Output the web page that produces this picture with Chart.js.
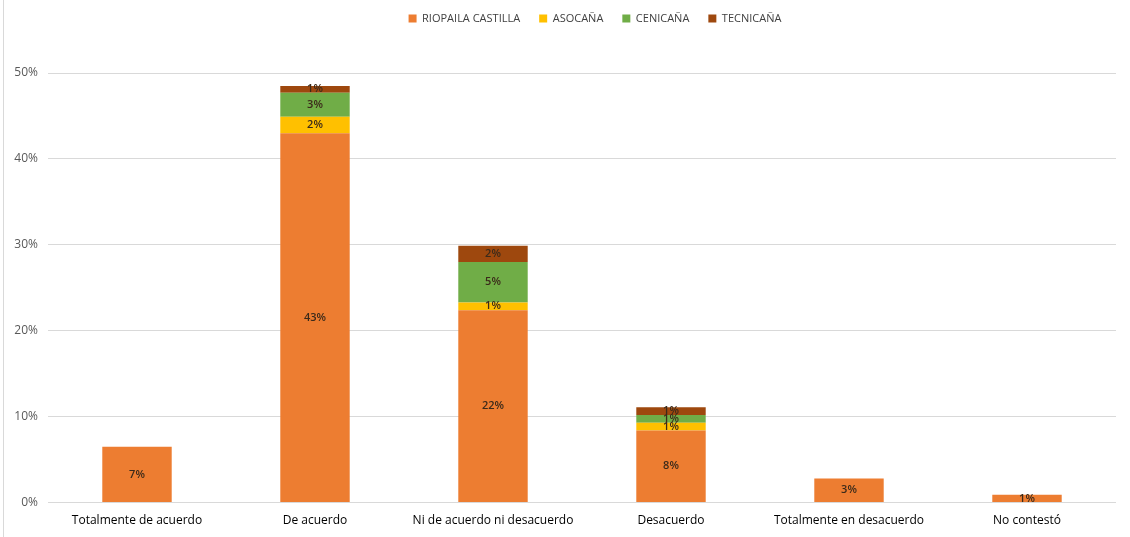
<!DOCTYPE html>
<html lang="es">
<head>
    <meta charset="UTF-8">
    <title>Encuesta</title>
    <script src="https://cdn.jsdelivr.net/npm/chart.js"></script>
    <style>
        body { margin: 0; background: #fff; }
        #wrap { position: relative; width: 1130px; height: 537px; }
        #frame { position: absolute; left: 3px; top: 0; width: 1px; height: 537px; background: #d9d9d9; }
    </style>
</head>
<body>
<div id="wrap">
    <div id="frame"></div>
    <canvas id="myBarChart" width="1130" height="537"></canvas>
</div>

<script>
    // categorías y valores (% de respuestas)
    var categorias = ['Totalmente de acuerdo', 'De acuerdo', 'Ni de acuerdo ni desacuerdo', 'Desacuerdo', 'Totalmente en desacuerdo', 'No contestó'];
    var riopaila  = [6.5, 43.0, 22.4, 8.4, 2.8, 0.9];
    var asocana   = [0,   1.9,  0.9,  0.9, 0,   0];
    var cenicana  = [0,   2.8,  4.7,  0.9, 0,   0];
    var tecnicana = [0,   0.8,  1.9,  0.9, 0,   0];
    var yTicks = [0, 10, 20, 30, 40, 50];

    // etiquetas dentro de las barras
    var barLabels = {
        id: 'barLabels',
        afterDatasetsDraw: function(chart) {
            var ctx = chart.ctx;
            ctx.save();
            ctx.font = '600 11px "Open Sans"';
            ctx.fillStyle = '#3b2a1a';
            ctx.textAlign = 'center';
            ctx.textBaseline = 'middle';
            chart.data.datasets.forEach(function(ds, i) {
                var meta = chart.getDatasetMeta(i);
                meta.data.forEach(function(bar, j) {
                    var v = ds.data[j];
                    if (!v) return;
                    var yMid = (bar.y + bar.base) / 2;
                    ctx.fillText(Math.round(v) + '%', bar.x, yMid);
                });
            });
            ctx.restore();
        }
    };

    // más espacio bajo la leyenda y leyenda un poco a la derecha
    var legendSpace = {
        id: 'legendSpace',
        beforeInit: function(chart) {
            var fit = chart.legend.fit;
            chart.legend.fit = function() {
                fit.bind(chart.legend)();
                this.height += 33;
            };
        },
        afterLayout: function(chart) {
            chart.legend.left += 37;
            chart.legend.right += 37;
            chart.legend.top -= 6;
            chart.legend.bottom -= 6;
        }
    };

    var ctx = document.getElementById('myBarChart').getContext('2d');
    var myBarChart = new Chart(ctx, {
        type: 'bar',
        data: {
            labels: categorias,
            datasets: [
                { label: 'RIOPAILA CASTILLA', data: riopaila, backgroundColor: '#ED7D31' },
                { label: 'ASOCAÑA', data: asocana, backgroundColor: '#FFC000' },
                { label: 'CENICAÑA', data: cenicana, backgroundColor: '#70AD47' },
                { label: 'TECNICAÑA', data: tecnicana, backgroundColor: '#9E480E' }
            ]
        },
        options: {
            responsive: false,
            animation: false,
            layout: { padding: { left: 0, right: 14, top: 0, bottom: 6 } },
            datasets: { bar: { categoryPercentage: 1, barPercentage: 0.39 } },
            plugins: {
                tooltip: { enabled: false },
                legend: {
                    position: 'top',
                    labels: {
                        boxWidth: 8,
                        boxHeight: 8,
                        padding: 19,
                        color: '#404040',
                        font: { family: '"Open Sans"', size: 11 }
                    }
                }
            },
            scales: {
                x: {
                    stacked: true,
                    grid: { display: false },
                    border: { display: false },
                    ticks: { color: '#000', padding: 3, font: { family: '"Open Sans"', size: 12 } }
                },
                y: {
                    stacked: true,
                    min: 0,
                    max: 50,
                    afterFit: function(scale) { scale.width = 48; },
                    afterBuildTicks: function(scale) {
                        scale.ticks = yTicks.map(function(v) { return { value: v }; });
                    },
                    grid: { color: '#d9d9d9', drawTicks: false },
                    border: { display: false },
                    ticks: {
                        color: '#595959',
                        padding: 10,
                        font: { family: '"Open Sans"', size: 12 },
                        callback: function(v) { return v + '%'; }
                    }
                }
            }
        },
        plugins: [barLabels, legendSpace]
    });
</script>

</body>
</html>
